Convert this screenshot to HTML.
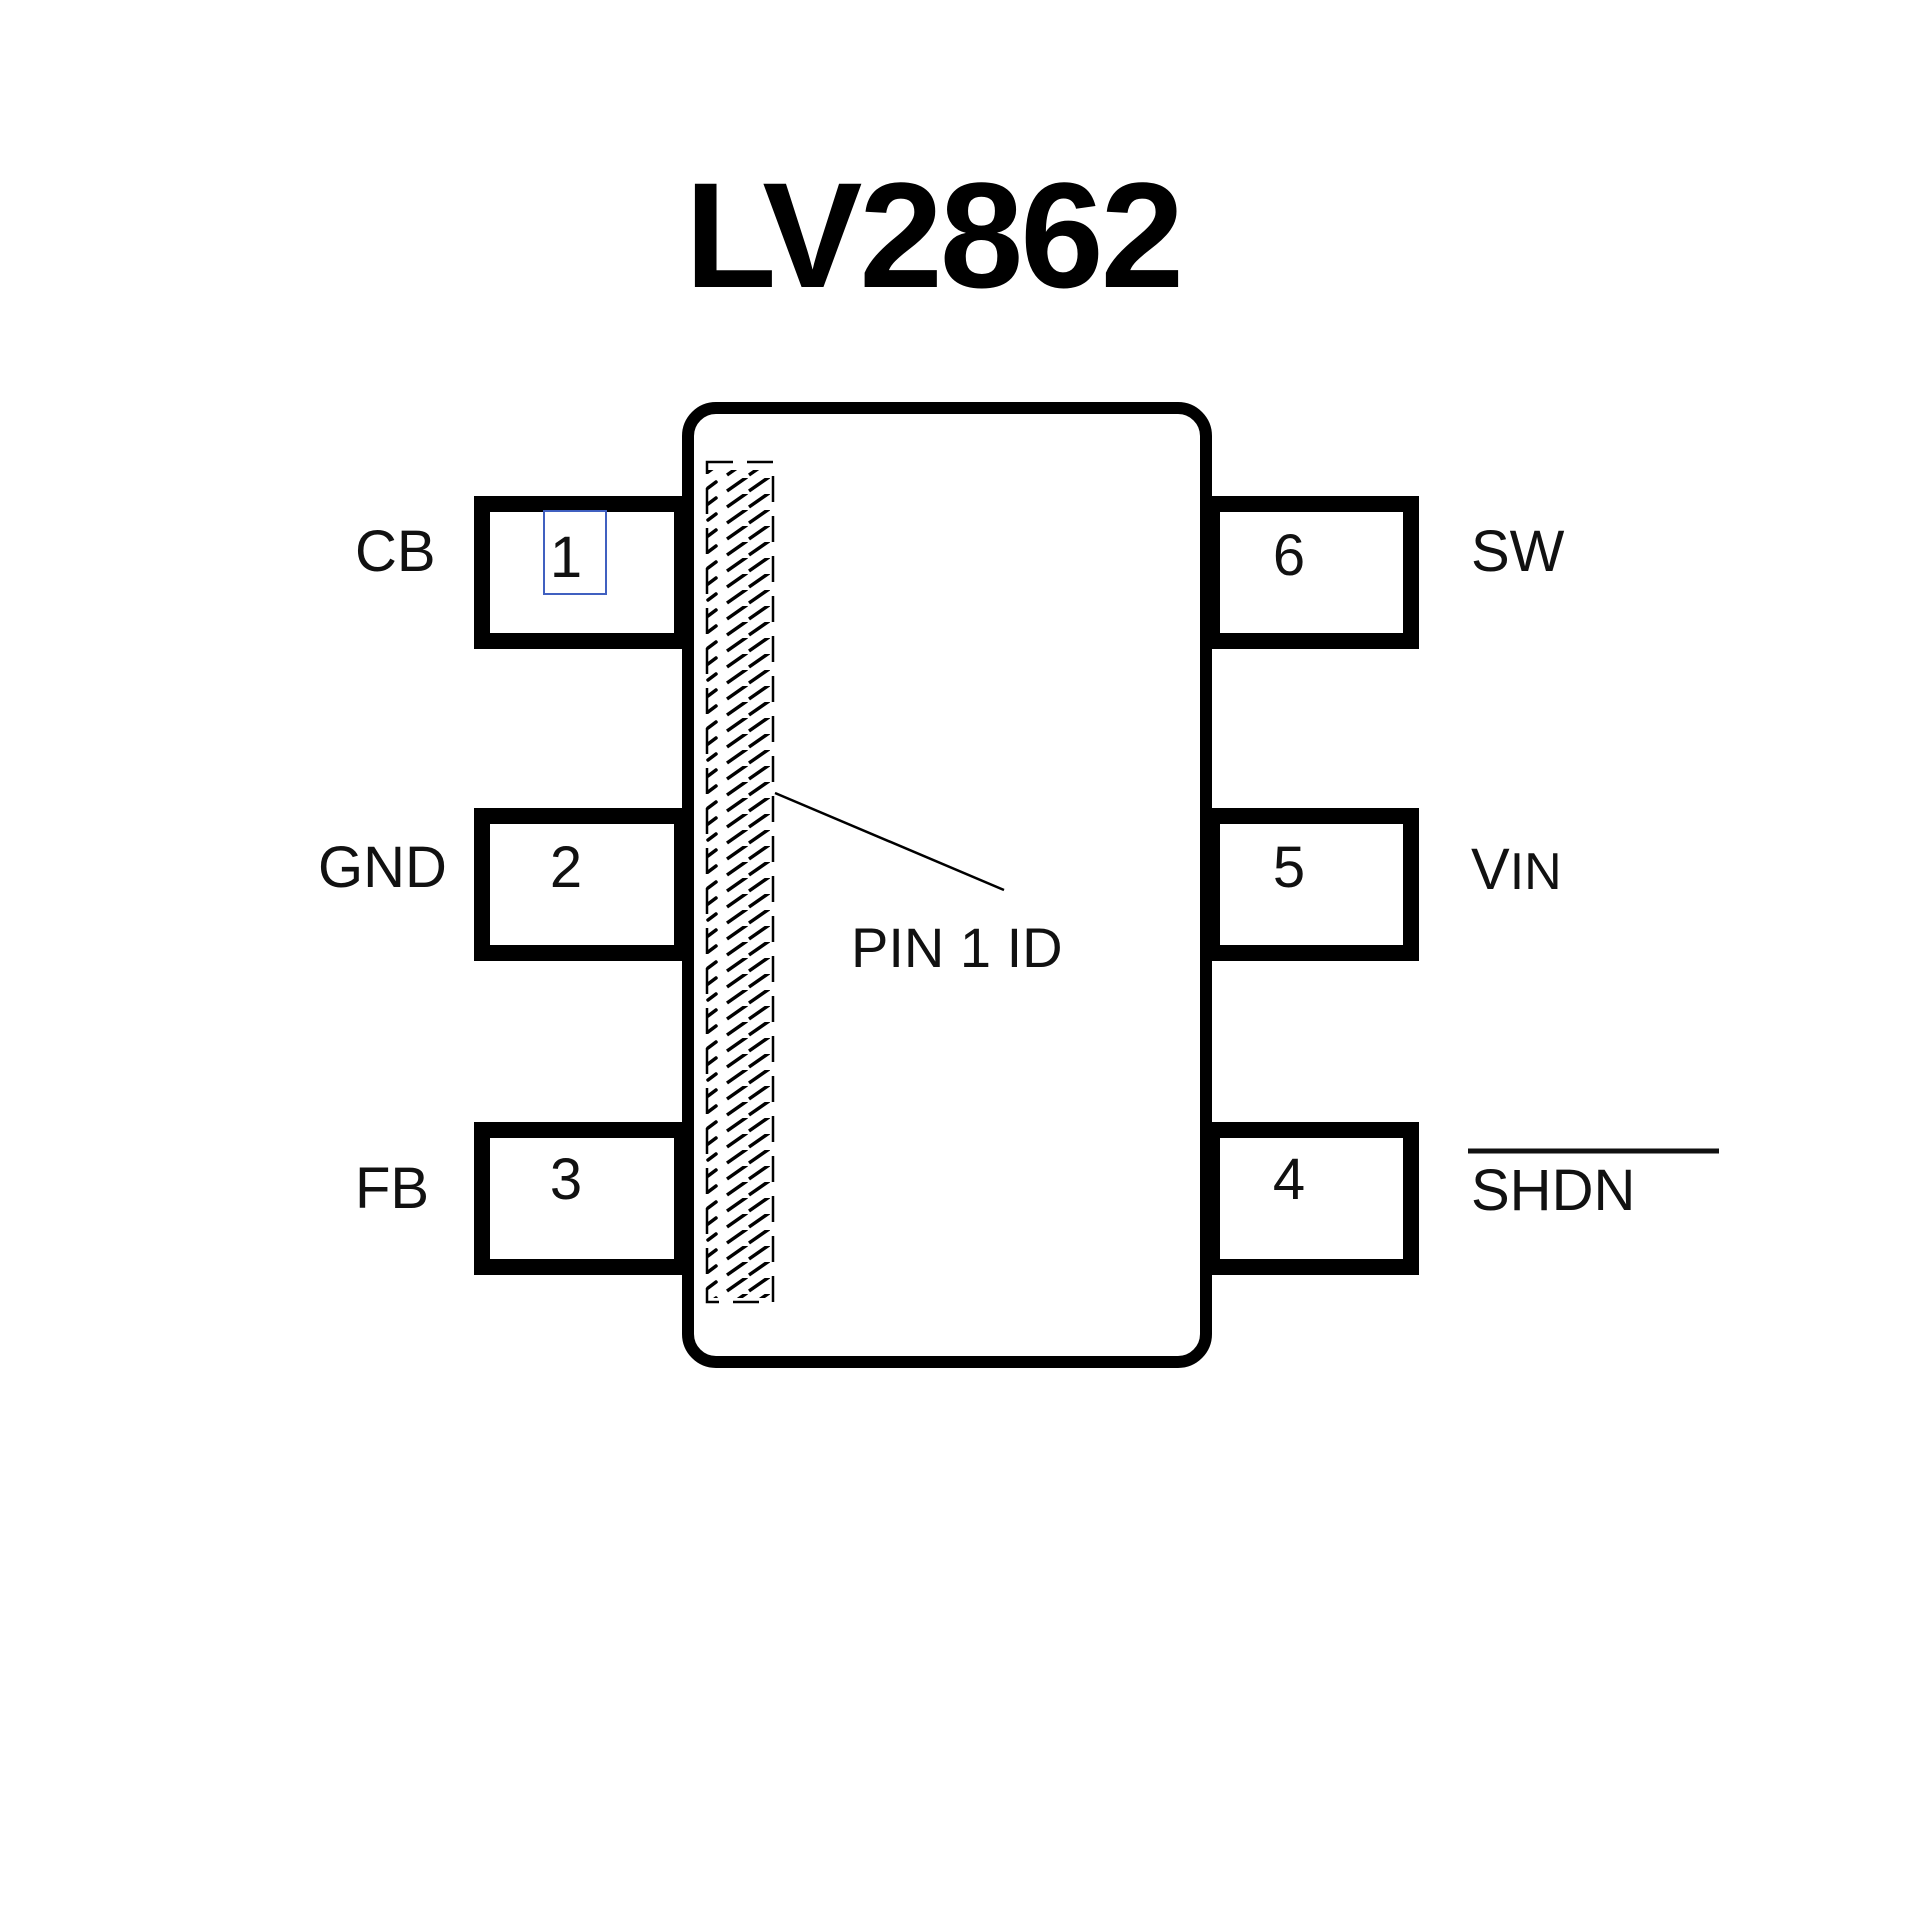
<!DOCTYPE html>
<html><head><style>
html,body{margin:0;padding:0;background:#fff;}
svg{display:block}
</style></head><body>
<svg width="1920" height="1920" viewBox="0 0 1920 1920" xmlns="http://www.w3.org/2000/svg">
<defs>
<pattern id="h1" x="0" y="462" width="70" height="16" patternUnits="userSpaceOnUse">
<line x1="708" y1="10" x2="716" y2="4" stroke="#000" stroke-width="3.5" stroke-linecap="round" transform="translate(-700,0)"/>
<line x1="727" y1="13" x2="747" y2="-1" stroke="#000" stroke-width="3.5" transform="translate(-700,0)"/>
<line x1="749" y1="13" x2="772" y2="-3" stroke="#000" stroke-width="3.5" transform="translate(-700,0)"/>
</pattern>
</defs>
<text x="933" y="287" font-family="Liberation Sans, sans-serif" font-weight="bold" font-size="150" text-anchor="middle" letter-spacing="-3">LV2862</text>
<g fill="none" stroke="#000" stroke-width="16">
<rect x="482" y="504" width="200" height="137"/>
<rect x="482" y="816" width="200" height="137"/>
<rect x="482" y="1130" width="200" height="137"/>
<rect x="1212" y="504" width="199" height="137"/>
<rect x="1212" y="816" width="199" height="137"/>
<rect x="1212" y="1130" width="199" height="137"/>
</g>
<rect x="688" y="408" width="518" height="954" rx="28" fill="#fff" stroke="#000" stroke-width="12"/>
<rect x="700" y="470" width="74" height="828" fill="url(#h1)"/>
<rect x="707" y="462" width="66" height="840" fill="none" stroke="#000" stroke-width="2.5" stroke-dasharray="26 14"/>
<line x1="775" y1="793" x2="1004" y2="890" stroke="#000" stroke-width="2.5"/>
<g font-family="Liberation Sans, sans-serif" font-size="58" fill="#111">
<text x="355" y="571">CB</text>
<text x="318" y="887">GND</text>
<text x="355" y="1208">FB</text>
<text x="1471" y="571">SW</text>
<text x="1471" y="889">V<tspan font-size="52">IN</tspan></text>
<text x="1471" y="1210">SHDN</text>
<text x="851" y="967" font-size="56">PIN 1 ID</text>
<g text-anchor="middle">
<text x="566" y="577">1</text>
<text x="566" y="887">2</text>
<text x="566" y="1199">3</text>
<text x="1289" y="575">6</text>
<text x="1289" y="887">5</text>
<text x="1289" y="1199">4</text>
</g>
</g>
<rect x="544" y="511" width="62" height="83" fill="none" stroke="#4060c0" stroke-width="2"/>
<line x1="1468" y1="1151" x2="1719" y2="1151" stroke="#111" stroke-width="5"/>
</svg>
</body></html>
